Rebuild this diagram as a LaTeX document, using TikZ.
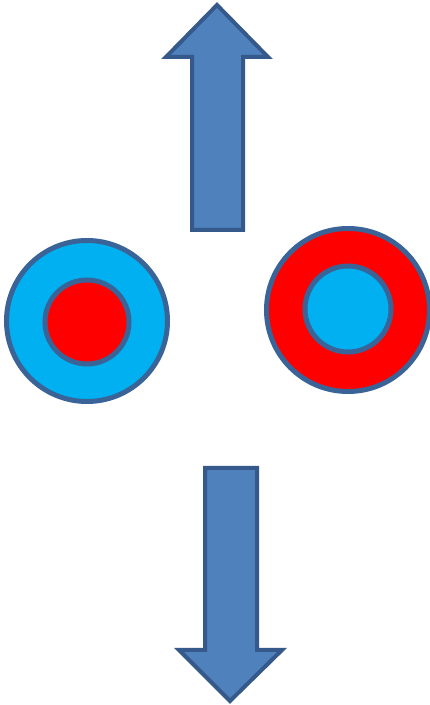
\documentclass[tikz,border=0pt]{standalone}
\begin{document}
\begin{tikzpicture}[x=1pt,y=1pt,
  arrowshape/.style={fill=arrowfill,draw=arrowedge,line width=4pt,line join=miter},
  ring/.style={circle,inner sep=0pt,draw=ringedge,line width=5pt},
]
\definecolor{arrowfill}{HTML}{4F81BD}
\definecolor{arrowedge}{HTML}{35598A}
\definecolor{ringedge}{HTML}{3A6497}
\definecolor{lblue}{HTML}{00B0F0}
\definecolor{rred}{HTML}{FF0000}
\useasboundingbox (0,0) rectangle (430,705);
% up arrow
\draw[arrowshape] (192,475) -- (192,648) -- (166,648) -- (217,700) -- (268,648) -- (243,648) -- (243,475) -- cycle;
% down arrow
\draw[arrowshape] (205,237) -- (205,55) -- (179,55) -- (230,4) -- (282,55) -- (257,55) -- (257,237) -- cycle;
% left ring
\node[ring,fill=lblue,minimum size=161pt] (lo) at (87,384) {};
\node[ring,fill=rred,minimum size=84pt] (li) at (87,383) {};
% right ring
\node[ring,fill=rred,minimum size=163pt] (ro) at (348,395) {};
\node[ring,fill=lblue,minimum size=86pt] (ri) at (348,396) {};
\end{tikzpicture}
\end{document}
